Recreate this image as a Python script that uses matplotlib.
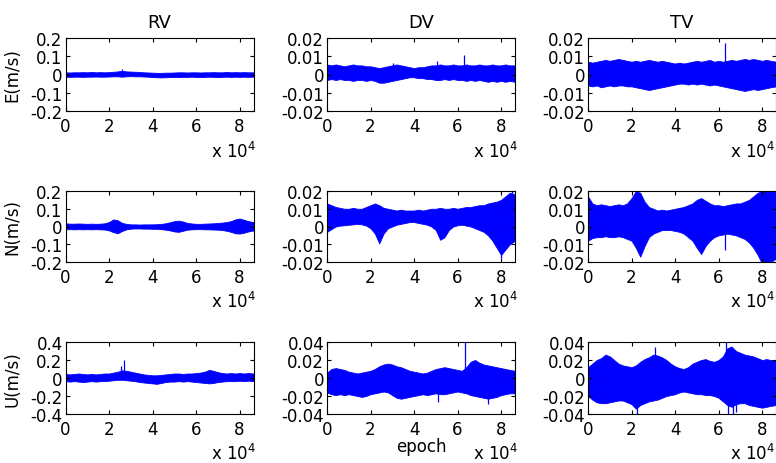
import matplotlib
matplotlib.use('Agg')
import matplotlib.pyplot as plt

# sample epochs (envelope of the dense velocity series)
epoch = [0, 2000, 4000, 6000, 8000, 10000, 12000, 14000, 16000, 18000,
         20000, 22000, 24000, 26000, 28000, 30000, 32000, 34000, 36000, 38000,
         40000, 42000, 44000, 46000, 48000, 50000, 52000, 54000, 56000, 58000,
         60000, 62000, 64000, 66000, 68000, 70000, 72000, 74000, 76000, 78000,
         80000, 82000, 84000, 86400]

# ---- RV ----
rv_e_hi = [0.012, 0.011, 0.012, 0.012, 0.013, 0.012, 0.014, 0.012, 0.013, 0.012, 0.013, 0.015, 0.017, 0.02, 0.017,
           0.016, 0.015, 0.014, 0.012, 0.011, 0.01, 0.009, 0.009, 0.01, 0.01, 0.011, 0.012, 0.012, 0.011, 0.012,
           0.012, 0.011, 0.012, 0.012, 0.013, 0.012, 0.012, 0.014, 0.012, 0.013, 0.012, 0.013, 0.012, 0.012]
rv_e_lo = [-0.012, -0.013, -0.012, -0.012, -0.013, -0.012, -0.012, -0.011, -0.012, -0.012, -0.011, -0.01, -0.01,
           -0.012, -0.01, -0.009, -0.01, -0.01, -0.011, -0.012, -0.014, -0.015, -0.016, -0.015, -0.014, -0.013,
           -0.014, -0.013, -0.013, -0.012, -0.013, -0.014, -0.013, -0.012, -0.013, -0.014, -0.013, -0.012, -0.013,
           -0.012, -0.013, -0.012, -0.013, -0.012]
rv_e_spk = [(26000, 0.028)]

rv_n_hi = [0.018, 0.016, 0.016, 0.017, 0.016, 0.015, 0.016, 0.015, 0.016, 0.018, 0.025, 0.04, 0.035, 0.02, 0.015,
           0.012, 0.012, 0.011, 0.012, 0.012, 0.012, 0.013, 0.015, 0.018, 0.024, 0.03, 0.033, 0.028, 0.02, 0.017,
           0.015, 0.015, 0.016, 0.017, 0.018, 0.02, 0.022, 0.025, 0.03, 0.04, 0.045, 0.038, 0.03, 0.025]
rv_n_lo = [-0.016, -0.015, -0.016, -0.015, -0.016, -0.015, -0.016, -0.015, -0.016, -0.017, -0.022, -0.032, -0.038,
           -0.025, -0.016, -0.012, -0.011, -0.011, -0.012, -0.012, -0.013, -0.013, -0.015, -0.018, -0.022, -0.028,
           -0.03, -0.024, -0.018, -0.016, -0.015, -0.015, -0.016, -0.016, -0.017, -0.018, -0.02, -0.024, -0.03,
           -0.038, -0.04, -0.035, -0.028, -0.022]
rv_n_spk = []

rv_u_hi = [0.045, 0.04, 0.045, 0.05, 0.045, 0.04, 0.045, 0.04, 0.045, 0.05, 0.05, 0.06, 0.07, 0.085, 0.08, 0.07,
           0.06, 0.05, 0.04, 0.035, 0.03, 0.03, 0.035, 0.04, 0.045, 0.05, 0.05, 0.045, 0.05, 0.05, 0.055, 0.06,
           0.07, 0.09, 0.08, 0.065, 0.055, 0.05, 0.055, 0.05, 0.055, 0.05, 0.055, 0.05]
rv_u_lo = [-0.035, -0.04, -0.035, -0.04, -0.045, -0.04, -0.035, -0.04, -0.035, -0.035, -0.03, -0.025, -0.02,
           -0.02, -0.025, -0.03, -0.035, -0.045, -0.05, -0.055, -0.06, -0.065, -0.055, -0.045, -0.04, -0.04,
           -0.035, -0.04, -0.035, -0.04, -0.045, -0.05, -0.055, -0.06, -0.055, -0.045, -0.04, -0.035, -0.035,
           -0.035, -0.03, -0.035, -0.03, -0.035]
rv_u_spk = [(25500, 0.13), (27000, 0.2)]

# ---- DV ----
dv_e_hi = [0.0055, 0.005, 0.0055, 0.005, 0.0045, 0.005, 0.0055, 0.005, 0.005, 0.0045, 0.0045, 0.004, 0.0035,
           0.004, 0.0045, 0.005, 0.0055, 0.005, 0.0045, 0.004, 0.0035, 0.004, 0.004, 0.0045, 0.005, 0.005, 0.0055,
           0.005, 0.005, 0.0055, 0.005, 0.005, 0.0055, 0.005, 0.005, 0.0055, 0.005, 0.005, 0.0055, 0.005, 0.005,
           0.0055, 0.005, 0.005]
dv_e_lo = [-0.003, -0.0025, -0.003, -0.0025, -0.003, -0.003, -0.0035, -0.003, -0.003, -0.0035, -0.003, -0.0035,
           -0.0045, -0.0045, -0.004, -0.0035, -0.003, -0.0025, -0.002, -0.0015, -0.0015, -0.002, -0.002, -0.0025,
           -0.0025, -0.003, -0.003, -0.0025, -0.003, -0.0025, -0.003, -0.003, -0.0035, -0.003, -0.0035, -0.003,
           -0.0035, -0.004, -0.0035, -0.004, -0.0035, -0.004, -0.0035, -0.004]
dv_e_spk = [(30500, 0.0065), (50700, 0.0074), (63100, 0.0105)]

dv_n_hi = [0.013, 0.012, 0.011, 0.0105, 0.01, 0.01, 0.0105, 0.01, 0.01, 0.011, 0.012, 0.013, 0.012, 0.0105,
           0.01, 0.0095, 0.009, 0.0095, 0.009, 0.009, 0.009, 0.0095, 0.009, 0.0095, 0.01, 0.01, 0.0105, 0.01, 0.01,
           0.0105, 0.01, 0.0105, 0.011, 0.011, 0.0115, 0.012, 0.012, 0.013, 0.0135, 0.014, 0.015, 0.017, 0.019,
           0.018]
dv_n_lo = [-0.003, -0.0015, 0, 0.0005, 0.0007, 0.001, 0.0012, 0.0015, 0.0012, 0.0005, -0.001, -0.004, -0.0095,
           -0.004, -0.001, 0, 0.001, 0.0015, 0.002, 0.0025, 0.0025, 0.002, 0.0015, 0.001, 0, -0.002, -0.0075,
           -0.006, -0.002, 0, 0.0007, 0.001, 0.0005, 0, -0.001, -0.002, -0.003, -0.005, -0.008, -0.012, -0.016,
           -0.013, -0.01, -0.008]
dv_n_spk = [(80000, -0.018), (85000, 0.021)]

dv_u_hi = [0.006, 0.01, 0.011, 0.01, 0.009, 0.007, 0.006, 0.005, 0.006, 0.007, 0.008, 0.01, 0.013, 0.015,
           0.016, 0.015, 0.013, 0.012, 0.01, 0.008, 0.007, 0.006, 0.005, 0.006, 0.008, 0.01, 0.011, 0.012, 0.011,
           0.01, 0.009, 0.008, 0.012, 0.018, 0.02, 0.017, 0.015, 0.014, 0.013, 0.012, 0.011, 0.01, 0.009, 0.008]
dv_u_lo = [-0.016, -0.018, -0.019, -0.018, -0.019, -0.018, -0.019, -0.02, -0.021, -0.02, -0.018, -0.017, -0.016,
           -0.015, -0.016, -0.019, -0.022, -0.023, -0.022, -0.021, -0.02, -0.019, -0.018, -0.019, -0.018, -0.017,
           -0.018, -0.018, -0.017, -0.016, -0.015, -0.016, -0.017, -0.019, -0.02, -0.021, -0.022, -0.023, -0.022,
           -0.021, -0.019, -0.018, -0.017, -0.017]
dv_u_spk = [(63200, 0.045), (51000, -0.027), (74000, -0.029)]

# ---- TV ----
tv_e_hi = [0.007, 0.0065, 0.007, 0.0075, 0.008, 0.0075, 0.008, 0.0085, 0.008, 0.0075, 0.007, 0.0075, 0.007,
           0.0075, 0.008, 0.0075, 0.007, 0.0075, 0.007, 0.0065, 0.006, 0.0065, 0.006, 0.0065, 0.007, 0.0075, 0.007,
           0.0075, 0.008, 0.007, 0.0075, 0.007, 0.0075, 0.008, 0.0075, 0.008, 0.0085, 0.008, 0.0085, 0.008, 0.0075,
           0.008, 0.0075, 0.007]
tv_e_lo = [-0.006, -0.0065, -0.006, -0.007, -0.0065, -0.006, -0.0065, -0.006, -0.006, -0.0065, -0.0065, -0.007,
           -0.0075, -0.008, -0.0085, -0.008, -0.0075, -0.007, -0.0065, -0.006, -0.0055, -0.005, -0.005, -0.0055,
           -0.005, -0.0055, -0.005, -0.0055, -0.006, -0.0055, -0.006, -0.0065, -0.007, -0.0075, -0.008, -0.0085,
           -0.009, -0.0085, -0.008, -0.0085, -0.008, -0.0075, -0.007, -0.0065]
tv_e_spk = [(63000, 0.017)]

tv_n_hi = [0.017, 0.013, 0.012, 0.0125, 0.012, 0.0115, 0.012, 0.0125, 0.012, 0.013, 0.016, 0.02, 0.019, 0.014,
           0.011, 0.01, 0.009, 0.0095, 0.009, 0.0095, 0.01, 0.0105, 0.011, 0.012, 0.013, 0.015, 0.016, 0.0145,
           0.013, 0.012, 0.012, 0.0115, 0.012, 0.0125, 0.013, 0.013, 0.014, 0.015, 0.017, 0.019, 0.02, 0.021, 0.02,
           0.02]
tv_n_lo = [-0.008, -0.0065, -0.006, -0.006, -0.0055, -0.006, -0.006, -0.0055, -0.006, -0.007, -0.008, -0.012,
           -0.017, -0.011, -0.006, -0.004, -0.003, -0.002, -0.002, -0.002, -0.0025, -0.003, -0.004, -0.006,
           -0.008, -0.012, -0.0155, -0.011, -0.008, -0.006, -0.005, -0.0045, -0.004, -0.0045, -0.005, -0.006,
           -0.007, -0.009, -0.012, -0.016, -0.021, -0.022, -0.02, -0.018]
tv_n_spk = [(63000, -0.013)]

tv_u_hi = [0.012, 0.016, 0.02, 0.022, 0.026, 0.024, 0.02, 0.016, 0.014, 0.013, 0.012, 0.014, 0.018, 0.021, 0.023,
           0.026, 0.025, 0.023, 0.02, 0.016, 0.013, 0.011, 0.01, 0.012, 0.016, 0.018, 0.02, 0.021, 0.019, 0.018,
           0.02, 0.024, 0.033, 0.035, 0.03, 0.028, 0.026, 0.025, 0.024, 0.022, 0.02, 0.021, 0.02, 0.02]
tv_u_lo = [-0.02, -0.024, -0.027, -0.028, -0.028, -0.027, -0.026, -0.025, -0.025, -0.027, -0.029, -0.034, -0.03,
           -0.028, -0.026, -0.025, -0.024, -0.022, -0.02, -0.019, -0.018, -0.016, -0.015, -0.016, -0.017, -0.018,
           -0.018, -0.019, -0.019, -0.02, -0.022, -0.026, -0.03, -0.032, -0.029, -0.028, -0.028, -0.03, -0.031,
           -0.032, -0.033, -0.032, -0.031, -0.03]
tv_u_spk = [(22500, -0.04), (31000, 0.034), (63500, 0.04), (64500, -0.04), (66500, -0.04), (68000, -0.038)]

col_titles = ['RV', 'DV', 'TV']
row_labels = ['E(m/s)', 'N(m/s)', 'U(m/s)']
xtick_vals = [0, 20000, 40000, 60000, 80000]
xtick_labels = ['0', '2', '4', '6', '8']
ytick_rv = [[-0.2, -0.1, 0, 0.1, 0.2], [-0.2, -0.1, 0, 0.1, 0.2], [-0.4, -0.2, 0, 0.2, 0.4]]
ytick_lab_rv = [['-0.2', '-0.1', '0', '0.1', '0.2'], ['-0.2', '-0.1', '0', '0.1', '0.2'],
                ['-0.4', '-0.2', '0', '0.2', '0.4']]
ytick_dv = [[-0.02, -0.01, 0, 0.01, 0.02], [-0.02, -0.01, 0, 0.01, 0.02], [-0.04, -0.02, 0, 0.02, 0.04]]
ytick_lab_dv = [['-0.02', '-0.01', '0', '0.01', '0.02'], ['-0.02', '-0.01', '0', '0.01', '0.02'],
                ['-0.04', '-0.02', '0', '0.02', '0.04']]

panels = [
    [(rv_e_hi, rv_e_lo, rv_e_spk), (dv_e_hi, dv_e_lo, dv_e_spk), (tv_e_hi, tv_e_lo, tv_e_spk)],
    [(rv_n_hi, rv_n_lo, rv_n_spk), (dv_n_hi, dv_n_lo, dv_n_spk), (tv_n_hi, tv_n_lo, tv_n_spk)],
    [(rv_u_hi, rv_u_lo, rv_u_spk), (dv_u_hi, dv_u_lo, dv_u_spk), (tv_u_hi, tv_u_lo, tv_u_spk)],
]

plt.rcParams['font.family'] = ['DejaVu Sans']

fig = plt.figure(figsize=(7.76, 4.64), dpi=100)

lefts = [65.5 / 776, 327 / 776, 588 / 776]
width = 188 / 776
rows = [(39, 112), (192, 263), (343, 415)]

for r in range(3):
    top, bot = rows[r]
    for c in range(3):
        ax = fig.add_axes([lefts[c], 1 - bot / 464, width, (bot - top) / 464])
        hi, lo, spk = panels[r][c]
        ax.fill_between(epoch, lo, hi, color='#0000ff', lw=0.6)
        if spk:
            sx = [s[0] for s in spk]
            sy = [s[1] for s in spk]
            ax.vlines(sx, 0, sy, color='#0000ff', lw=0.9)
        ax.set_xlim(0, 86400)
        if c == 0:
            ticks, labs = ytick_rv[r], ytick_lab_rv[r]
        else:
            ticks, labs = ytick_dv[r], ytick_lab_dv[r]
        ax.set_ylim(ticks[0], ticks[-1])
        ax.set_yticks(ticks)
        ax.set_yticklabels(labs)
        ax.set_xticks(xtick_vals)
        ax.set_xticklabels(xtick_labels)
        ax.tick_params(direction='in', top=True, right=True, length=3, width=0.8, labelsize=12)
        ax.tick_params(axis='y', pad=2)
        ax.tick_params(axis='x', pad=4)
        for sp in ax.spines.values():
            sp.set_linewidth(0.8)
        # offset label, kept inside the figure for the last column
        xpos = 1.015 if c < 2 else 0.995
        ax.text(xpos, -0.63, r'x 10$^4$', transform=ax.transAxes, ha='right', va='baseline', fontsize=12)
        if r == 0:
            ax.set_title(col_titles[c], fontsize=13, pad=8)
        if c == 0:
            ax.set_ylabel(row_labels[r], fontsize=12)
            ax.yaxis.set_label_coords(-0.235, 0.5)
        if r == 2 and c == 1:
            ax.text(0.5, -0.52, 'epoch', transform=ax.transAxes, ha='center', va='baseline', fontsize=12)

plt.savefig('out.png', dpi=100)
